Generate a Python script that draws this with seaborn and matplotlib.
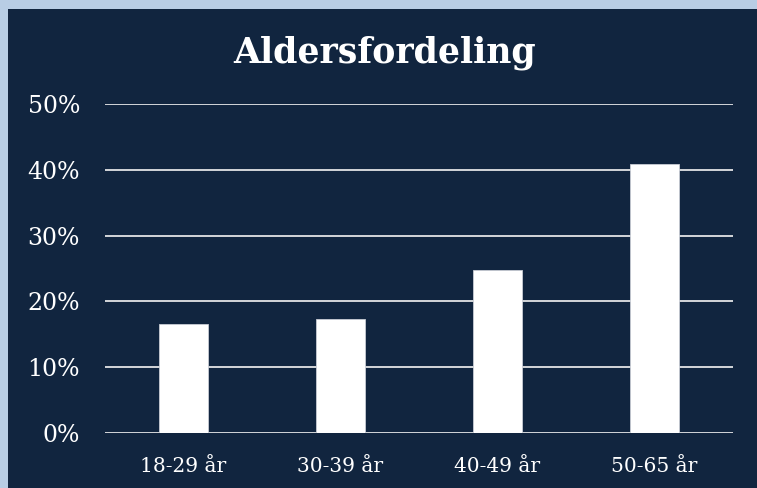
import matplotlib
matplotlib.use("Agg")
import matplotlib.pyplot as plt
import matplotlib.patches as mpatches
import seaborn as sns
import pandas as pd

# Data
age_groups = ["18-29 år", "30-39 år", "40-49 år", "50-65 år"]
shares = [16.6, 17.3, 24.8, 40.9]
y_ticks = [0, 10, 20, 30, 40, 50]

navy = "#11253f"
border = "#b8cde4"

sns.set_theme(style="white")
plt.rcParams["font.family"] = ["DejaVu Serif"]

df = pd.DataFrame({"group": age_groups, "share": shares})

fig = plt.figure(figsize=(7.57, 4.88), dpi=100, facecolor=border)
# dark panel inside the light border
fig.patches.append(mpatches.Rectangle((8 / 757, 0), 1, (488 - 9) / 488,
                                      transform=fig.transFigure, facecolor=navy,
                                      edgecolor="none", zorder=-5))

ax = fig.add_axes([105 / 757, (488 - 433) / 488, 628 / 757, (433 - 104) / 488])
ax.set_zorder(2)
ax.patch.set_alpha(0)

sns.barplot(data=df, x="group", y="share", color="white", width=0.31,
            edgecolor="#c8ccd4", linewidth=0.6, saturation=1, ax=ax, zorder=3)

ax.set_ylim(0, 50)
ax.set_xlim(-0.5, 3.5)
ax.set_yticks(y_ticks)
ax.set_yticklabels([f"{t}%" for t in y_ticks])
for t in y_ticks:
    ax.axhline(t, color="#d4d6da", linewidth=1.4, zorder=1)

for s in ax.spines.values():
    s.set_visible(False)
ax.tick_params(axis="both", length=0, colors="white")
ax.tick_params(axis="y", labelsize=17, pad=18)
ax.tick_params(axis="x", labelsize=14.5, pad=17)
ax.set_xlabel("")
ax.set_ylabel("")

fig.text(385 / 757, 1 - 53 / 488, "Aldersfordeling", color="white",
         fontsize=25, fontweight="bold", ha="center", va="center", zorder=5)

fig.savefig("out.png", dpi=100, facecolor=border)
